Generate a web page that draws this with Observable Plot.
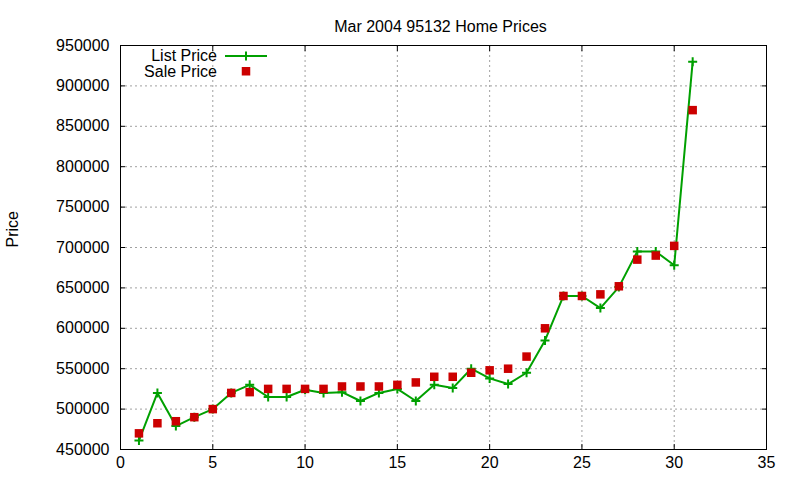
<!DOCTYPE html>
<html><head><meta charset="utf-8">
<script src="https://cdn.jsdelivr.net/npm/d3@7"></script>
<script src="https://cdn.jsdelivr.net/npm/@observablehq/plot@0.6"></script>
<style>
body{margin:0;background:#fff;font-family:"Liberation Sans",Arial,sans-serif}
#wrap{position:relative;width:800px;height:480px}
#legend{position:absolute;left:0;top:0}
</style>
</head><body><div id="wrap"></div>
<script>
const title = "Mar 2004 95132 Home Prices";
const yLabel = "Price";
const seriesNames = ["List Price", "Sale Price"];
const days = [1,2,3,4,5,6,7,8,9,10,11,12,13,14,15,16,17,18,19,20,21,22,23,24,25,26,27,28,29,30,31];
const listPrice = [461000,520000,479000,490000,500000,520000,530000,515000,515000,524000,520000,521000,510000,520000,525000,510000,530000,526000,550000,538000,531000,545000,585000,640000,640000,625000,651000,695000,695000,678000,930000];
const salePrice = [470000,482500,485000,490000,500000,520000,521000,525000,525000,525000,525000,528000,528000,528000,530000,533000,540000,540000,545000,548000,550000,565000,600000,640000,640000,642000,652000,685000,690000,702000,870000];
const xTicks = [0,5,10,15,20,25,30,35];
const yTicks = [450000,500000,550000,600000,650000,700000,750000,800000,850000,900000,950000];

const listData = days.map((d,i)=>({day:d, price:listPrice[i]}));
const saleData = days.map((d,i)=>({day:d, price:salePrice[i]}));

const GREEN = "#00a000", RED = "#cc0000";
const plusSymbol = {draw(ctx, size){ const r = Math.sqrt(size/Math.PI); ctx.moveTo(-r,0); ctx.lineTo(r,0); ctx.moveTo(0,-r); ctx.lineTo(0,r);} };
const grid = {stroke:"#a0a0a0", strokeOpacity:1, strokeDasharray:"2,3"};
const fs = 16;

const chart = Plot.plot({
  width: 800, height: 480,
  marginLeft: 120, marginRight: 34, marginTop: 45, marginBottom: 31,
  style: {fontFamily: '"Liberation Sans", Arial, sans-serif', fontSize: fs+"px", color:"#000", background:"#fff"},
  x: {domain:[0,35], label:null},
  y: {domain:[450000,950000], label:null},
  marks: [
    Plot.gridX(xTicks, grid),
    Plot.gridY(yTicks, grid),
    Plot.axisX(xTicks, {anchor:"bottom", tickSize:0, tickPadding:7, fontSize:fs, label:null}),
    Plot.axisY(yTicks, {anchor:"left", tickSize:0, tickPadding:11, fontSize:fs, label:null, tickFormat:d=>String(d)}),
    Plot.axisX(xTicks, {anchor:"bottom", tickSize:5, dy:-5, tickFormat:()=>"", label:null}),
    Plot.axisX(xTicks, {anchor:"top", tickSize:5, dy:5, tickFormat:()=>"", label:null}),
    Plot.axisY(yTicks, {anchor:"left", tickSize:5, dx:5, tickFormat:()=>"", label:null}),
    Plot.axisY(yTicks, {anchor:"right", tickSize:5, dx:-5, tickFormat:()=>"", label:null}),
    Plot.frame({stroke:"#000"}),
    Plot.line(listData, {x:"day", y:"price", stroke:GREEN, strokeWidth:2}),
    Plot.dot(listData, {x:"day", y:"price", symbol:plusSymbol, r:4.5, stroke:GREEN, fill:"none", strokeWidth:2}),
    Plot.dot(saleData, {x:"day", y:"price", symbol:"square", r:4.8, fill:RED, stroke:"none"}),
    Plot.text([title], {frameAnchor:"top", dy:-25, dx:-3, fontSize:fs}),
    Plot.text([yLabel], {frameAnchor:"left", dx:-108, rotate:-90, fontSize:fs})
  ]
});
document.getElementById("wrap").appendChild(chart);

// legend overlay
const lg = d3.select("#wrap").append("svg").attr("id","legend").attr("width",800).attr("height",480)
  .style("font-family",'"Liberation Sans", Arial, sans-serif').style("font-size",fs+"px");
lg.append("text").attr("x",217).attr("y",55.5).attr("text-anchor","end").attr("dominant-baseline","central").text(seriesNames[0]);
lg.append("line").attr("x1",225).attr("x2",267).attr("y1",56).attr("y2",56).attr("stroke",GREEN).attr("stroke-width",2);
lg.append("path").attr("d","M241.5,56H250.5M246,51.5V60.5").attr("stroke",GREEN).attr("stroke-width",2);
lg.append("text").attr("x",217).attr("y",71.5).attr("text-anchor","end").attr("dominant-baseline","central").text(seriesNames[1]);
lg.append("rect").attr("x",241.75).attr("y",67).attr("width",8.5).attr("height",8.5).attr("fill",RED);
</script>
</body></html>
